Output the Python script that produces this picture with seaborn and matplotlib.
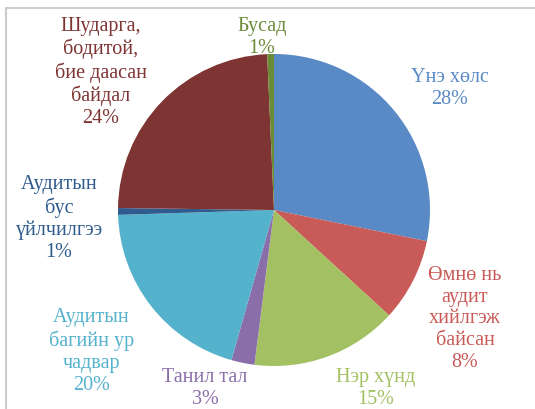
import numpy as np
import seaborn as sns
from matplotlib import pyplot as plt, patches, transforms

# slices, clockwise from 12 o'clock
labels = [
    "Үнэ хөлс",
    "Өмнө нь\nаудит\nхийлгэж\nбайсан",
    "Нэр хүнд",
    "Танил тал",
    "Аудитын\nбагийн ур\nчадвар",
    "Аудитын\nбус\nүйлчилгээ",
    "Шударга,\nбодитой,\nбие даасан\nбайдал",
    "Бусад",
]
shares = [28.2, 8.6, 15.2, 2.4, 20.1, 0.7, 24.1, 0.7]
pct_labels = ["28%", "8%", "15%", "3%", "20%", "1%", "24%", "1%"]
colors = ["#5A8AC6", "#C85B57", "#A3C163", "#8A6EAA",
          "#54B2CC", "#2F5B8E", "#7E3433", "#6C8B38"]

# label placement: radius factor and angle tweak (deg) per slice
label_r = [1.38, 1.40, 1.30, 1.21, 1.47, 1.38, 1.43, 1.13]
label_da = [4, 2, -9.8, 9.9, 0.8, -0.9, -5, -2.6]

sns.set_theme(style="white")
plt.rcParams['font.family'] = ['Liberation Serif', 'DejaVu Serif']

fig = plt.figure(figsize=(5.35, 4.09), dpi=100)
W, H = 535, 409
cx, cy, r = 274, 210, 156
ax = fig.add_axes([(cx - r) / W, (H - cy - r) / H, 2 * r / W, 2 * r / H])

wedges, _ = ax.pie(shares, colors=colors, startangle=90, counterclock=False,
                   radius=1, wedgeprops=dict(linewidth=0))
ax.set_xlim(-1, 1)
ax.set_ylim(-1, 1)
ax.axis("off")

txt_tr = transforms.offset_copy(ax.transData, fig=fig, y=-3, units='dots')
cum = np.cumsum([0] + shares[:-1])
for i, w in enumerate(wedges):
    mid = (cum[i] + shares[i] / 2) / 100 * 360 + label_da[i]
    a = np.deg2rad(mid)
    x, y = label_r[i] * np.sin(a), label_r[i] * np.cos(a)
    ax.text(x, y, f"{labels[i]}\n{pct_labels[i]}", ha="center", va="center",
            color=colors[i], fontsize=14.5, linespacing=1.2, clip_on=False,
            transform=txt_tr)

# outer chart frame (partially visible)
frame = patches.Rectangle((6 / W, -0.1), 1.2, 1.1 - 8 / H,
                          transform=fig.transFigure, fill=False,
                          edgecolor="#CCCCCC", linewidth=1.5)
fig.patches.append(frame)

fig.savefig("out.png", dpi=100)
